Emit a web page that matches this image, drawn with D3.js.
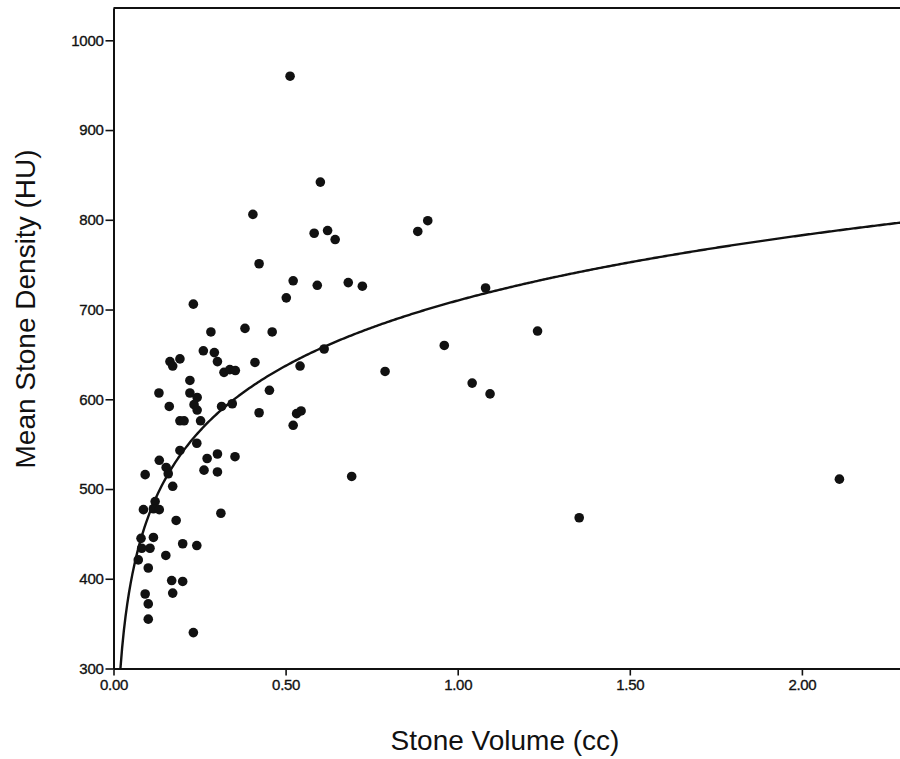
<!DOCTYPE html>
<html>
<head>
<meta charset="utf-8">
<script src="https://cdn.jsdelivr.net/npm/d3@7"></script>
<style>
  body { margin: 0; background: #fff; }
  .tick text { font-family: "Liberation Sans", Arial, sans-serif; fill: #111; stroke: #111; stroke-width: 0.35px; letter-spacing: -0.3px; }
  .axis-title { font-family: "Liberation Sans", Arial, sans-serif; fill: #111; }
</style>
</head>
<body>
<div id="chart"></div>
<script>
// Stone volume (cc) and mean density (HU)
const volume = [
  0.513, 0.601, 0.405, 0.583, 0.622, 0.644, 0.884, 0.913, 0.423, 0.522,
  0.592, 0.682, 0.723, 0.502, 1.081, 0.232, 0.461, 1.232, 0.283, 0.382,
  0.612, 0.961, 0.261, 0.293, 0.302, 0.164, 0.193, 0.172, 0.411, 0.542,
  0.321, 0.338, 0.354, 0.789, 0.222, 0.132, 0.222, 0.243, 0.234, 0.243,
  0.162, 0.193, 0.205, 0.253, 0.314, 0.345, 0.423, 0.453, 0.532, 0.545,
  0.522, 0.242, 0.193, 0.133, 0.153, 0.159, 0.092, 0.272, 0.302, 0.353,
  0.263, 0.302, 0.172, 0.121, 0.087, 0.116, 0.133, 0.182, 0.312, 0.080,
  0.116, 0.106, 0.082, 0.072, 0.201, 0.242, 0.152, 0.101, 0.169, 0.201,
  0.092, 0.172, 0.101, 0.101, 0.232, 0.692, 1.042, 1.094, 1.353, 2.109
];
const density = [
  960, 842, 806, 785, 788, 778, 787, 799, 751, 732,
  727, 730, 726, 713, 724, 706, 675, 676, 675, 679,
  656, 660, 654, 652, 642, 642, 645, 637, 641, 637,
  630, 633, 632, 631, 621, 607, 607, 602, 594, 588,
  592, 576, 576, 576, 592, 595, 585, 610, 584, 587,
  571, 551, 543, 532, 524, 517, 516, 534, 539, 536,
  521, 519, 503, 486, 477, 478, 477, 465, 473, 445,
  446, 434, 434, 421, 439, 437, 426, 412, 398, 397,
  383, 384, 372, 355, 340, 514, 618, 606, 468, 511
];

// Logarithmic fit shown on the plot: density = a + b * ln(volume)
const fitIntercept = 710;
const fitSlope = 105;

const xTicks = [0, 0.5, 1.0, 1.5, 2.0];
const yTicks = [300, 400, 500, 600, 700, 800, 900, 1000];

const width = 900;
const height = 759;

const svg = d3.select("#chart")
    .append("svg")
    .attr("width", width)
    .attr("height", height);

const x = d3.scaleLinear()
    .domain([0, 2.3])
    .range([113.5, 113.5 + 2.3 * 344.2]);

const y = d3.scaleLinear()
    .domain([300, 1036])
    .range([668.5, 8]);

svg.append("clipPath")
    .attr("id", "plot-clip")
    .append("rect")
    .attr("x", x(0))
    .attr("y", y(1036))
    .attr("width", x(2.3) - x(0))
    .attr("height", y(300) - y(1036));

// top border of the plot frame
svg.append("line")
    .attr("x1", x(0)).attr("x2", x(2.3))
    .attr("y1", y(1036)).attr("y2", y(1036))
    .attr("stroke", "#111")
    .attr("stroke-width", 2);

// y axis
const yAxis = svg.append("g")
    .attr("transform", `translate(${x(0)},0)`)
    .call(d3.axisLeft(y).tickValues(yTicks).tickFormat(d3.format("d"))
        .tickSize(8).tickSizeOuter(0).tickPadding(2));
yAxis.select(".domain").attr("stroke", "#111").attr("stroke-width", 2);
yAxis.selectAll(".tick line").attr("stroke", "#111").attr("stroke-width", 1.6);
yAxis.selectAll(".tick text").style("font-size", "15px");

// x axis
const xAxis = svg.append("g")
    .attr("transform", `translate(0,${y(300)})`)
    .call(d3.axisBottom(x).tickValues(xTicks).tickFormat(d3.format(".2f"))
        .tickSize(7).tickSizeOuter(0).tickPadding(4));
xAxis.select(".domain").attr("stroke", "#111").attr("stroke-width", 2);
xAxis.selectAll(".tick line").attr("stroke", "#111").attr("stroke-width", 1.6);
xAxis.selectAll(".tick text").style("font-size", "15px");

// fitted curve
const curveX = d3.range(0.02, 2.31, 0.005);
const line = d3.line()
    .x(d => x(d))
    .y(d => y(fitIntercept + fitSlope * Math.log(d)));

svg.append("path")
    .datum(curveX)
    .attr("clip-path", "url(#plot-clip)")
    .attr("d", line)
    .attr("fill", "none")
    .attr("stroke", "#111")
    .attr("stroke-width", 2.4);

// points
svg.append("g")
    .selectAll("circle")
    .data(volume)
    .join("circle")
    .attr("cx", d => x(d))
    .attr("cy", (d, i) => y(density[i]))
    .attr("r", 4.8)
    .attr("fill", "#111");

// axis titles
svg.append("text")
    .attr("class", "axis-title")
    .attr("x", 505)
    .attr("y", 750)
    .attr("text-anchor", "middle")
    .style("font-size", "28px")
    .text("Stone Volume (cc)");

svg.append("text")
    .attr("class", "axis-title")
    .attr("transform", "translate(35,309) rotate(-90)")
    .attr("text-anchor", "middle")
    .style("font-size", "28px")
    .text("Mean Stone Density (HU)");
</script>
</body>
</html>
